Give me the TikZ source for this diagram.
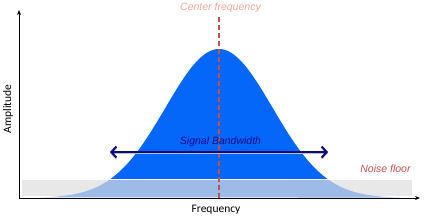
\documentclass[tikz,border=0pt]{standalone}
\usepackage{fontspec}
\setmainfont{Liberation Sans}
\newfontfamily\axisfont{Carlito}
\usetikzlibrary{arrows.meta}
\definecolor{sigblue}{RGB}{5,102,250}
\definecolor{lightsig}{RGB}{158,187,232}
\definecolor{bandgray}{RGB}{232,232,232}
\definecolor{navy}{RGB}{10,10,135}
\definecolor{noisered}{RGB}{192,80,77}
\definecolor{salmon}{RGB}{244,166,152}
\tikzset{
  axis/.style={line width=1pt,-{Stealth[length=5pt,width=4pt]}},
  lbl/.style={font=\fontsize{10.5}{12}\selectfont\itshape,inner sep=0pt},
  axlbl/.style={font=\axisfont\fontsize{11.5}{13}\selectfont,inner sep=0pt},
  bwarrow/.style={line width=2pt,navy,{Straight Barb[length=5pt,width=11pt,line width=2pt]}-{Straight Barb[length=5pt,width=11pt,line width=2pt]}},
  centerline/.style={noisered,line width=1.5pt,dash pattern=on 5pt off 3pt}
}
\begin{document}
\begin{tikzpicture}[x=1pt,y=1pt]
\useasboundingbox (0,0) rectangle (425,218);
% noise band
\fill[bandgray] (22,22) rectangle (412,39);
% gaussian above band
\begin{scope}
\clip (0,39) rectangle (425,218);
\fill[sigblue] plot[domain=40:400,samples=200,smooth] (\x,{20+149*exp(-0.5*((\x-219)/53.5)^2)}) -- cycle;
\end{scope}
% gaussian within band
\begin{scope}
\clip (0,20.5) rectangle (425,39);
\fill[lightsig] plot[domain=40:400,samples=200,smooth] (\x,{20+149*exp(-0.5*((\x-219)/53.5)^2)}) -- cycle;
\end{scope}
\draw[white,line width=0.8pt] (22,39) -- (412,39);
% axes
\coordinate (o) at (19,20);
\coordinate (xe) at (420,20);
\coordinate (ye) at (19,208);
\draw[axis] (o) -- (xe);
\draw[axis] (o) -- (ye);
% center line
\coordinate (ctop) at (219,201);
\coordinate (cbot) at (219,20);
\draw[centerline] (ctop) -- (cbot);
% bandwidth arrow
\coordinate (bl) at (110,66);
\coordinate (br) at (328,66);
\draw[bwarrow,black!25,transform canvas={yshift=-1.2pt}] (bl) -- (br);
\draw[bwarrow] (bl) -- (br);
% labels
\node[lbl,text=salmon] (cf) at (220.5,210) {Center frequency};
\node[lbl,text=navy] (sb) at (220.5,76) {Signal Bandwidth};
\node[lbl,text=noisered] (nf) at (385.5,49) {Noise floor};
\node[axlbl] (fq) at (216,8) {Frequency};
\node[axlbl,rotate=90] (am) at (8,109) {Amplitude};
\end{tikzpicture}
\end{document}
